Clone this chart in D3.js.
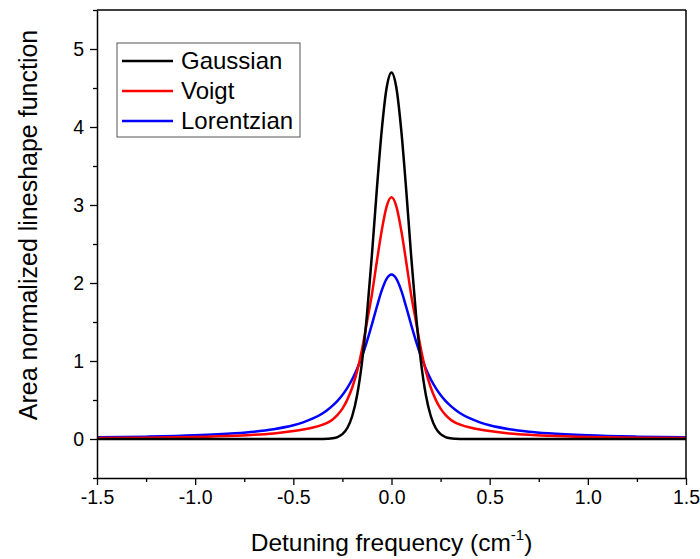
<!DOCTYPE html>
<html><head><meta charset="utf-8">
<script src="https://cdn.jsdelivr.net/npm/d3@7"></script>
<style>body{margin:0;background:#fff}svg{display:block}text{font-family:Arial,"Liberation Sans",sans-serif;fill:#000}</style>
</head><body><svg id="c" width="700" height="559"></svg>
<script>
// Detuning frequency (cm^-1)
const xs = [-1.5,-1.25,-1.0,-0.8,-0.7,-0.6,-0.5,-0.45,-0.4,-0.35,-0.325,-0.3,-0.275,-0.25,-0.225,-0.2,-0.175,-0.15,-0.125,-0.1,-0.075,-0.05,-0.025,0,
            0.025,0.05,0.075,0.1,0.125,0.15,0.175,0.2,0.225,0.25,0.275,0.3,0.325,0.35,0.4,0.45,0.5,0.6,0.7,0.8,1.0,1.25,1.5];
const gaussian = [0,0,0,0,0,0,0,0,0,0.001,0.003,0.009,0.025,0.062,0.141,0.295,0.565,0.99,1.59,2.35,3.19,3.95,4.50,4.70,
                  4.50,3.95,3.19,2.35,1.59,0.99,0.565,0.295,0.141,0.062,0.025,0.009,0.003,0.001,0,0,0,0,0,0,0,0,0];
const voigt = [0.012,0.017,0.026,0.041,0.053,0.072,0.102,0.122,0.148,0.185,0.21,0.25,0.31,0.39,0.505,0.66,0.87,1.15,1.50,1.85,2.27,2.67,2.98,3.10,
               2.98,2.67,2.27,1.85,1.50,1.15,0.87,0.66,0.505,0.39,0.31,0.25,0.21,0.185,0.148,0.122,0.102,0.072,0.053,0.041,0.026,0.017,0.012];
const lorentzian = [0.021,0.030,0.047,0.073,0.094,0.126,0.176,0.214,0.263,0.331,0.375,0.427,0.489,0.564,0.655,0.766,0.901,1.062,1.252,1.467,1.692,1.902,2.054,2.11,
                    2.054,1.902,1.692,1.467,1.252,1.062,0.901,0.766,0.655,0.564,0.489,0.427,0.375,0.331,0.263,0.214,0.176,0.126,0.094,0.073,0.047,0.030,0.021];
const seriesNames = ["Gaussian","Voigt","Lorentzian"];
const seriesColors = ["#000000","#ff0000","#0000ff"];
const xTicks = [-1.5,-1.0,-0.5,0.0,0.5,1.0,1.5];
const xMinor = [-1.25,-0.75,-0.25,0.25,0.75,1.25];
const yTicks = [0,1,2,3,4,5];
const yMinor = [-0.5,0.5,1.5,2.5,3.5,4.5,5.5];

const svg = d3.select("#c");
const L = 97, R = 686, T = 10, B = 478;
const x = d3.scaleLinear().domain([-1.5,1.5]).range([L,R]);
const y = d3.scaleLinear().domain([-0.5,5.5]).range([B,T]);

// series
const all = [gaussian, voigt, lorentzian];
const line = d3.line().x((d,i)=>x(xs[i])).y(d=>y(d)).curve(d3.curveMonotoneX);
[2,1,0].forEach(k=>{
  svg.append("path").attr("d", line(all[k])).attr("fill","none")
    .attr("stroke", seriesColors[k]).attr("stroke-width",2.5).attr("stroke-linejoin","round");
});

// frame
svg.append("line").attr("x1",L).attr("x2",R).attr("y1",T).attr("y2",T).attr("stroke","#000").attr("stroke-width",1.5);
svg.append("line").attr("x1",R).attr("x2",R).attr("y1",T).attr("y2",B).attr("stroke","#000").attr("stroke-width",1.5);

// axes
const xAxis = svg.append("g").attr("transform",`translate(0,${B})`)
  .call(d3.axisBottom(x).tickValues(xTicks).tickFormat(d3.format(".1f")).tickSize(7).tickSizeOuter(0));
svg.append("g").attr("transform",`translate(0,${B})`)
  .call(d3.axisBottom(x).tickValues(xMinor).tickFormat("").tickSize(4).tickSizeOuter(0))
  .call(g=>g.select(".domain").remove());
const yAxis = svg.append("g").attr("transform",`translate(${L},0)`)
  .call(d3.axisLeft(y).tickValues(yTicks).tickFormat(d3.format("d")).tickSize(7).tickSizeOuter(0));
svg.append("g").attr("transform",`translate(${L},0)`)
  .call(d3.axisLeft(y).tickValues(yMinor).tickFormat("").tickSize(4).tickSizeOuter(0))
  .call(g=>g.select(".domain").remove());
svg.selectAll(".domain").attr("stroke","#000").attr("stroke-width",1.5);
svg.selectAll(".tick line").attr("stroke","#000").attr("stroke-width",1.3);
xAxis.selectAll("text").attr("font-size",19.5).attr("dy","1.05em").attr("y",6)
  .text(d=> d<0 ? "-"+Math.abs(d).toFixed(1) : d.toFixed(1));
yAxis.selectAll("text").attr("font-size",19.5).attr("x",-13).attr("dy","0.35em");
svg.selectAll(".tick text").style("font-family","Arial, 'Liberation Sans', sans-serif").attr("fill","#000");

// titles
const xt = svg.append("text").attr("x",(L+R)/2).attr("y",551).attr("text-anchor","middle").attr("font-size",24.5);
xt.append("tspan").text("Detuning frequency (cm");
xt.append("tspan").attr("font-size",15).attr("dy",-11).text("-1");
xt.append("tspan").attr("dy",11).text(")");
svg.append("text").attr("transform",`translate(37,225) rotate(-90)`).attr("text-anchor","middle")
  .attr("font-size",25).text("Area normalized lineshape function");

// legend
const lg = svg.append("g");
lg.append("rect").attr("x",117).attr("y",43).attr("width",183).attr("height",94)
  .attr("fill","#fff").attr("stroke","#555").attr("stroke-width",1);
seriesNames.forEach((n,i)=>{
  const yy = 61 + i*30;
  lg.append("line").attr("x1",122).attr("x2",173).attr("y1",yy).attr("y2",yy)
    .attr("stroke",seriesColors[i]).attr("stroke-width",2.5);
  lg.append("text").attr("x",181).attr("y",yy).attr("dy","0.35em").attr("font-size",24).text(n);
});
</script></body></html>
